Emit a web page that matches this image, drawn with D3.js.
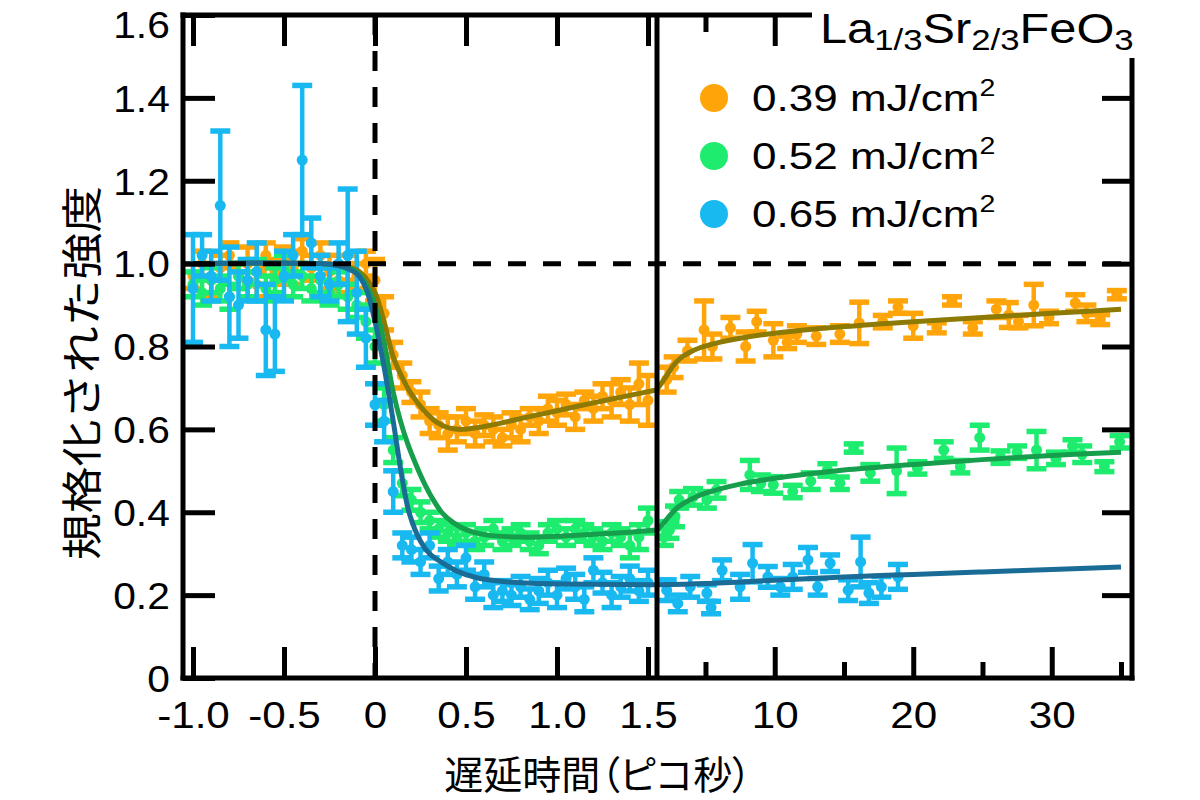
<!DOCTYPE html>
<html><head><meta charset="utf-8">
<script src="https://cdn.jsdelivr.net/npm/d3@7"></script>
<style>body{margin:0;background:#fff}</style>
</head><body><svg id="c" width="1200" height="800"></svg>
<script>
// ---------- data ----------
const seriesNames = ["0.39 mJ/cm", "0.52 mJ/cm", "0.65 mJ/cm"];
const seriesColors = ["#FFA50A", "#1EEC6E", "#18B8F0"];
const fitColors = ["#8C7A05", "#179E4C", "#1A6C96"];

const seg1Ticks = [-1.0, -0.5, 0, 0.5, 1.0, 1.5];
const seg1TickLabels = ["-1.0", "-0.5", "0", "0.5", "1.0", "1.5"];
const seg2Ticks = [5, 10, 15, 20, 25, 30, 35];
const seg2MajorLabels = {10: "10", 20: "20", 30: "30"};
const yTicks = [0, 0.2, 0.4, 0.6, 0.8, 1.0, 1.2, 1.4, 1.6];
const yTickLabels = ["0", "0.2", "0.4", "0.6", "0.8", "1.0", "1.2", "1.4", "1.6"];

const seg1Time = [-1.00,-0.95,-0.90,-0.85,-0.80,-0.75,-0.70,-0.65,-0.60,-0.55,
  -0.50,-0.45,-0.40,-0.35,-0.30,-0.25,-0.20,-0.15,-0.10,-0.05,
  0.00,0.05,0.10,0.15,0.20,0.25,0.30,0.35,0.40,0.45,
  0.50,0.55,0.60,0.65,0.70,0.75,0.80,0.85,0.90,0.95,
  1.00,1.05,1.10,1.15,1.20,1.25,1.30,1.35,1.40,1.45,1.50];

const orange1 = [0.97,1.00,0.96,0.99,1.02,0.97,1.00,0.95,1.02,0.98,
  1.01,0.99,1.03,0.99,1.02,0.98,0.96,0.99,0.97,1.00,
  0.96,0.88,0.78,0.73,0.69,0.66,0.62,0.61,0.59,0.60,
  0.62,0.59,0.61,0.60,0.58,0.61,0.60,0.63,0.62,0.65,
  0.64,0.66,0.63,0.67,0.65,0.68,0.67,0.69,0.66,0.71,0.67];
const orange1Err = [0.03,0.03,0.04,0.03,0.03,0.03,0.04,0.03,0.03,0.03,
  0.03,0.04,0.03,0.03,0.03,0.04,0.03,0.03,0.03,0.03,
  0.05,0.04,0.03,0.03,0.025,0.03,0.03,0.03,0.04,0.03,
  0.03,0.03,0.025,0.03,0.02,0.03,0.03,0.02,0.03,0.03,
  0.03,0.025,0.03,0.02,0.03,0.03,0.04,0.03,0.04,0.05,0.06];

const green1 = [0.95,0.93,0.96,0.94,0.92,0.97,0.95,0.98,0.94,0.96,
  0.99,0.95,0.97,0.94,0.96,0.93,0.95,0.92,0.90,0.86,
  0.80,0.66,0.55,0.47,0.43,0.40,0.38,0.36,0.35,0.34,
  0.35,0.33,0.34,0.36,0.33,0.34,0.35,0.33,0.32,0.35,
  0.36,0.34,0.36,0.35,0.34,0.33,0.35,0.34,0.32,0.34,0.38];
const green1Err = [0.03,0.03,0.03,0.03,0.03,0.03,0.03,0.03,0.03,0.03,
  0.03,0.03,0.03,0.03,0.03,0.03,0.03,0.03,0.03,0.04,
  0.04,0.04,0.03,0.03,0.025,0.025,0.02,0.02,0.02,0.02,
  0.02,0.02,0.02,0.02,0.02,0.02,0.02,0.02,0.02,0.02,
  0.02,0.02,0.02,0.02,0.02,0.02,0.02,0.02,0.03,0.03,0.03];

const blue1 = [0.94,1.02,0.97,1.14,0.92,0.90,0.96,0.98,0.84,0.83,
  0.97,1.02,1.25,1.05,0.97,0.95,1.00,1.02,0.93,0.82,
  0.66,0.62,0.45,0.32,0.31,0.28,0.32,0.24,0.28,0.25,
  0.29,0.22,0.25,0.20,0.21,0.20,0.22,0.19,0.21,0.23,
  0.20,0.24,0.22,0.19,0.26,0.23,0.20,0.22,0.24,0.21,0.23];
const blue1Err = [0.13,0.05,0.06,0.18,0.12,0.08,0.05,0.07,0.11,0.09,
  0.06,0.05,0.18,0.06,0.05,0.04,0.05,0.16,0.10,0.07,
  0.05,0.05,0.05,0.03,0.03,0.03,0.03,0.03,0.03,0.03,
  0.03,0.03,0.03,0.03,0.025,0.025,0.025,0.025,0.03,0.03,
  0.03,0.025,0.03,0.03,0.03,0.025,0.03,0.025,0.03,0.025,0.03];

const orange2Time = [2.2,2.7,3.7,4.9,5.5,6.8,7.9,8.7,9.9,10.9,11.6,13.0,14.7,16.1,17.8,18.9,20.0,21.7,22.8,24.3,26.0,26.9,27.6,28.7,29.8,31.7,32.5,33.5,34.7];
const orange2 = [0.72,0.75,0.79,0.84,0.80,0.845,0.80,0.86,0.815,0.81,0.83,0.825,0.83,0.857,0.86,0.895,0.85,0.845,0.91,0.845,0.89,0.876,0.86,0.90,0.87,0.905,0.88,0.865,0.925];
const orange2Err = [0.03,0.025,0.025,0.07,0.03,0.025,0.035,0.025,0.04,0.015,0.02,0.02,0.02,0.05,0.015,0.015,0.03,0.012,0.01,0.015,0.02,0.03,0.015,0.05,0.015,0.02,0.02,0.012,0.01];

const green2Time = [2.0,2.4,2.8,3.1,4.1,5.1,5.8,8.2,9.0,9.9,11.3,12.6,13.8,14.7,15.7,16.9,18.8,20.3,22.2,23.4,24.8,26.3,27.5,28.9,30.3,31.5,32.2,33.8,34.9];
const green2 = [0.34,0.357,0.39,0.43,0.437,0.43,0.454,0.49,0.47,0.466,0.45,0.475,0.502,0.47,0.555,0.495,0.50,0.507,0.55,0.51,0.58,0.533,0.545,0.55,0.53,0.56,0.54,0.51,0.57];
const green2Err = [0.02,0.02,0.025,0.02,0.02,0.02,0.02,0.035,0.02,0.02,0.015,0.02,0.015,0.015,0.01,0.02,0.055,0.015,0.02,0.015,0.03,0.015,0.015,0.045,0.015,0.015,0.02,0.012,0.015];

const blue2Time = [2.2,3.0,3.9,5.1,5.4,6.2,7.5,8.4,9.5,10.4,11.3,12.4,13.1,14.0,15.3,16.2,16.8,17.7,18.9];
const blue2 = [0.212,0.18,0.22,0.205,0.17,0.26,0.22,0.277,0.244,0.22,0.244,0.285,0.22,0.277,0.212,0.28,0.205,0.22,0.244];
const blue2Err = [0.025,0.02,0.025,0.02,0.015,0.025,0.03,0.045,0.025,0.02,0.03,0.03,0.02,0.02,0.025,0.06,0.025,0.025,0.03];

// fitted curves as [time, value]
const orangeFit1 = [[-1.055,1],[-0.3,1],[-0.2,0.997],[-0.1,0.985],[-0.05,0.965],[0,0.93],[0.05,0.86],[0.1,0.775],[0.15,0.725],[0.2,0.685],[0.27,0.645],[0.34,0.617],[0.41,0.603],[0.48,0.600],[0.56,0.604],[0.7,0.616],[0.83,0.629],[1.0,0.645],[1.2,0.664],[1.4,0.682],[1.544,0.695]];
const orangeFit2 = [[1.5,0.697],[1.8,0.71],[2.2,0.73],[2.7,0.755],[3.2,0.772],[3.8,0.785],[4.6,0.797],[6,0.81],[7.5,0.82],[10,0.832],[15,0.848],[20,0.86],[25,0.87],[30,0.88],[35,0.89]];
const greenFit1 = [[-1.055,1],[-0.3,1],[-0.2,0.995],[-0.1,0.98],[-0.05,0.95],[0,0.90],[0.05,0.81],[0.1,0.69],[0.14,0.62],[0.18,0.565],[0.23,0.51],[0.28,0.462],[0.32,0.43],[0.37,0.398],[0.43,0.375],[0.5,0.358],[0.6,0.346],[0.8,0.34],[1.0,0.342],[1.2,0.347],[1.4,0.352],[1.544,0.357]];
const greenFit2 = [[1.5,0.357],[2,0.375],[2.5,0.395],[3,0.412],[4,0.432],[5,0.446],[7.5,0.468],[10,0.482],[15,0.502],[20,0.515],[25,0.527],[30,0.537],[35,0.545]];
const blueFit1 = [[-1.055,1],[-0.3,1],[-0.2,0.995],[-0.1,0.975],[-0.05,0.94],[0,0.86],[0.05,0.75],[0.1,0.62],[0.15,0.48],[0.19,0.395],[0.25,0.33],[0.3,0.30],[0.37,0.278],[0.45,0.258],[0.56,0.242],[0.7,0.233],[0.83,0.229],[1.0,0.227],[1.2,0.226],[1.544,0.225]];
const blueFit2 = [[1.5,0.225],[5,0.228],[10,0.236],[15,0.244],[20,0.25],[25,0.256],[30,0.262],[35,0.268]];

// ---------- layout ----------
const svg = d3.select("#c");
const L = 183, R = 1132, T = 15, B = 678, BRK = 657;
const x1 = d3.scaleLinear().domain([-1.0, 1.5]).range([193, 648]);
const x2 = d3.scaleLinear().domain([1.5, 35]).range([657, 1121]);
const y = d3.scaleLinear().domain([0, 1.6]).range([B, T]);
const LATIN = "'Liberation Sans', Arial, sans-serif";
const CJK = "'Noto Sans CJK JP', sans-serif";
const SX = 1.1;
const SW = 5;

const defs = svg.append("defs");
defs.append("clipPath").attr("id","clip1").append("rect").attr("x",L).attr("y",T).attr("width",BRK-L).attr("height",B-T);
defs.append("clipPath").attr("id","clip2").append("rect").attr("x",BRK).attr("y",T).attr("width",R-BRK).attr("height",B-T);

function drawSeries(g, xs, ts, vs, es, color) {
  const pts = ts.map((t,i)=>({t, v: vs[i], e: es[i]}));
  const gg = g.append("g").attr("stroke", color).attr("fill", color).attr("stroke-width", 4.5);
  const cw = 10;
  pts.forEach(p => {
    const cx = xs(p.t), yt = y(p.v + p.e), yb = y(p.v - p.e);
    gg.append("line").attr("x1",cx).attr("x2",cx).attr("y1",yt).attr("y2",yb);
    gg.append("line").attr("x1",cx-cw).attr("x2",cx+cw).attr("y1",yt).attr("y2",yt).attr("stroke-width",5.5);
    gg.append("line").attr("x1",cx-cw).attr("x2",cx+cw).attr("y1",yb).attr("y2",yb).attr("stroke-width",5.5);
    gg.append("circle").attr("cx",cx).attr("cy",y(p.v)).attr("r",5.5).attr("stroke","none");
  });
}

const g1 = svg.append("g").attr("clip-path","url(#clip1)");
const g2 = svg.append("g").attr("clip-path","url(#clip2)");
drawSeries(g1, x1, seg1Time, orange1, orange1Err, seriesColors[0]);
drawSeries(g1, x1, seg1Time, green1, green1Err, seriesColors[1]);
drawSeries(g1, x1, seg1Time, blue1, blue1Err, seriesColors[2]);
drawSeries(g2, x2, orange2Time, orange2, orange2Err, seriesColors[0]);
drawSeries(g2, x2, green2Time, green2, green2Err, seriesColors[1]);
drawSeries(g2, x2, blue2Time, blue2, blue2Err, seriesColors[2]);

function drawFit(g, xs, pts, color) {
  const line = d3.line().x(d=>xs(d[0])).y(d=>y(d[1])).curve(d3.curveCatmullRom.alpha(0.5));
  g.append("path").attr("d", line(pts)).attr("fill","none").attr("stroke",color)
    .attr("stroke-width",5).attr("stroke-linejoin","round");
}
drawFit(g1, x1, orangeFit1, fitColors[0]);
drawFit(g1, x1, greenFit1, fitColors[1]);
drawFit(g1, x1, blueFit1, fitColors[2]);
drawFit(g2, x2, orangeFit2, fitColors[0]);
drawFit(g2, x2, greenFit2, fitColors[1]);
drawFit(g2, x2, blueFit2, fitColors[2]);

// reference dashed lines
svg.append("line").attr("x1",x1(-1)).attr("x2",R).attr("y1",y(1)).attr("y2",y(1))
  .attr("stroke","#000").attr("stroke-width",SW).attr("stroke-dasharray","18,17");
svg.append("line").attr("x1",x1(0)).attr("x2",x1(0)).attr("y1",T).attr("y2",B)
  .attr("stroke","#000").attr("stroke-width",SW).attr("stroke-dasharray","20,16");

// ---------- axes ----------
function styleAxis(g) {
  g.select(".domain").remove();
  g.selectAll(".tick line").attr("stroke","#000").attr("stroke-width",SW);
  g.selectAll(".tick text").attr("fill","#000").style("font-family",LATIN).style("font-size","37px");
}
const bx1 = svg.append("g").attr("transform",`translate(0,${B})`)
  .call(d3.axisBottom(x1).tickValues(seg1Ticks).tickSize(-31).tickPadding(24).tickFormat((d,i)=>seg1TickLabels[i]));
styleAxis(bx1);
bx1.selectAll(".tick text").attr("transform",`scale(1.14,1)`);

const bx2 = svg.append("g").attr("transform",`translate(0,${B})`)
  .call(d3.axisBottom(x2).tickValues(seg2Ticks).tickSize(-31).tickPadding(24).tickFormat(d=>seg2MajorLabels[d]||""));
styleAxis(bx2);
bx2.selectAll(".tick").filter(d=>!seg2MajorLabels[d]).select("line").attr("y2",-16);
bx2.selectAll(".tick text").attr("transform",`scale(1.14,1)`);

const tx1 = svg.append("g").attr("transform",`translate(0,${T})`)
  .call(d3.axisTop(x1).tickValues(seg1Ticks).tickSize(-31).tickFormat(""));
styleAxis(tx1);
const tx2 = svg.append("g").attr("transform",`translate(0,${T})`)
  .call(d3.axisTop(x2).tickValues([5,10]).tickSize(-31).tickFormat(""));
styleAxis(tx2);
tx2.selectAll(".tick").filter(d=>d===5).select("line").attr("y2",17);

const ly = svg.append("g").attr("transform",`translate(${L},0)`)
  .call(d3.axisLeft(y).tickValues(yTicks).tickSize(-32).tickPadding(12).tickFormat((d,i)=>yTickLabels[i]));
styleAxis(ly);
ly.selectAll(".tick text").attr("transform",`scale(${SX},1)`).attr("dy","0.36em");
ly.selectAll(".tick").filter(d=>d===1.6).select("text").attr("dy","0.62em");

const ry = svg.append("g").attr("transform",`translate(${R},0)`)
  .call(d3.axisRight(y).tickValues(yTicks.filter(v=>v>0 && v<1.5)).tickSize(-30).tickFormat(""));
styleAxis(ry);

// frame
const frame = svg.append("g").attr("stroke","#000").attr("stroke-width",SW).attr("fill","none");
frame.append("line").attr("x1",L).attr("x2",L).attr("y1",T-2.5).attr("y2",B+2.5);
frame.append("line").attr("x1",L-2.5).attr("x2",R+2.5).attr("y1",B).attr("y2",B);
frame.append("line").attr("x1",R).attr("x2",R).attr("y1",58).attr("y2",B+2.5);
frame.append("line").attr("x1",L-2.5).attr("x2",812).attr("y1",T).attr("y2",T);
frame.append("line").attr("x1",BRK).attr("x2",BRK).attr("y1",T).attr("y2",B);

// ---------- title ----------
const title = svg.append("text").attr("transform",`translate(820,43) scale(1.16,1)`)
  .style("font-family",LATIN).style("font-size","42px").attr("fill","#000");
title.append("tspan").text("La");
title.append("tspan").attr("dy",7).style("font-size","30px").text("1/3");
title.append("tspan").attr("dy",-7).text("Sr");
title.append("tspan").attr("dy",7).style("font-size","30px").text("2/3");
title.append("tspan").attr("dy",-7).text("FeO");
title.append("tspan").attr("dy",7).style("font-size","30px").text("3");

// ---------- legend ----------
const legY = [98, 156, 214];
seriesNames.forEach((name,i)=>{
  svg.append("circle").attr("cx",714).attr("cy",legY[i]).attr("r",14).attr("fill",seriesColors[i]);
  const t = svg.append("text").attr("transform",`translate(752,${legY[i]+13}) scale(1.19,1)`)
    .style("font-family",LATIN).style("font-size","37px").attr("fill","#000");
  t.append("tspan").text(name);
  t.append("tspan").attr("dy",-15).style("font-size","24px").text("2");
});

// ---------- axis titles ----------
svg.append("text").attr("x",598).attr("y",789).attr("text-anchor","middle")
  .style("font-family",CJK).style("font-size","39px").style("font-feature-settings","'palt' 1")
  .attr("fill","#000")
  .text("遅延時間（ピコ秒）");
svg.append("text").attr("transform","translate(97,373) rotate(-90)").attr("text-anchor","middle")
  .style("font-family",CJK).style("font-size","41px").attr("fill","#000")
  .attr("textLength",374).attr("lengthAdjust","spacingAndGlyphs")
  .text("規格化された強度");
</script>
</body></html>
